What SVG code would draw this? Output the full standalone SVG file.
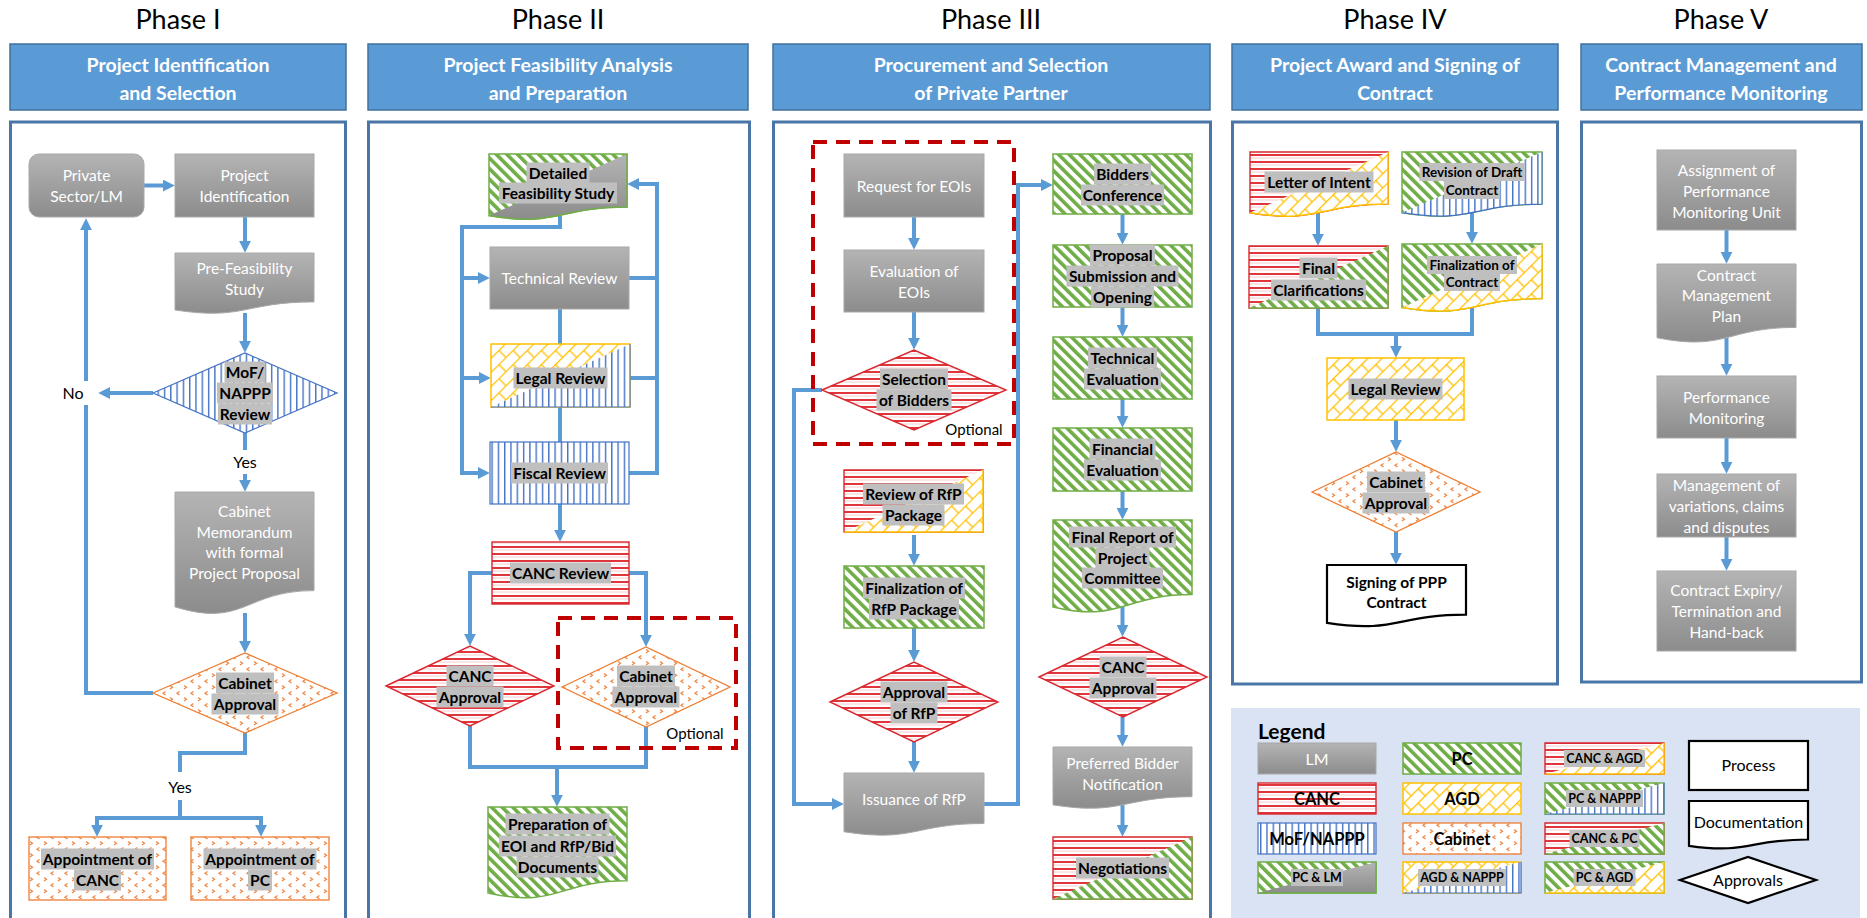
<svg xmlns="http://www.w3.org/2000/svg" width="1867" height="918" viewBox="0 0 1867 918">
<style>
  .ttl{font-family:Lato,'Liberation Sans',sans-serif;font-size:27px;fill:#000;text-anchor:middle}
  .hdr{fill:#5b9bd5;stroke:#41719c;stroke-width:1.5}
  .ht{font-family:Lato,'Liberation Sans',sans-serif;font-size:19.5px;font-weight:700;fill:#fff;text-anchor:middle}
  .frm{fill:#fff;stroke:#4a76a7;stroke-width:3}
  .gray{fill:url(#gLM);stroke:#a8a8a8;stroke-width:1}
  .tw{font-family:Lato,'Liberation Sans',sans-serif;font-size:15.5px;fill:#fff;text-anchor:middle}
  .tb{font-family:Lato,'Liberation Sans',sans-serif;font-size:15.5px;font-weight:700;fill:#000;text-anchor:middle}
  .ts{font-family:Lato,'Liberation Sans',sans-serif;font-size:13.5px;font-weight:700;fill:#000;text-anchor:middle}
  .tr{font-family:Lato,'Liberation Sans',sans-serif;font-size:16px;fill:#000;text-anchor:middle}
  .tp{font-family:Lato,'Liberation Sans',sans-serif;font-size:16px;fill:#000;text-anchor:middle}
  .op{font-family:Lato,'Liberation Sans',sans-serif;font-size:15px;fill:#000;text-anchor:middle}
  .tl{font-family:Lato,'Liberation Sans',sans-serif;font-size:16.5px;font-weight:700;fill:#000;text-anchor:middle}
  .tc{font-family:Lato,'Liberation Sans',sans-serif;font-size:12.5px;font-weight:700;fill:#000;text-anchor:middle}
  .hl{fill:#bfbfbf}
  .cn{fill:none;stroke:#5b9bd5;stroke-width:4}
  .ar{marker-end:url(#ah)}
  .dash{fill:none;stroke:#c00000;stroke-width:4;stroke-dasharray:14 9}
  .pc{fill:url(#pPC);stroke:#70ad47;stroke-width:1.5}
  .canc{fill:url(#pCANC);stroke:#d9272e;stroke-width:1.4}
  .nap{fill:url(#pNAP);stroke:#4472c4;stroke-width:1.2}
  .agd{fill:url(#pAGD);stroke:#ffc000;stroke-width:1.5}
  .cab{fill:url(#pCAB);stroke:#ed7d31;stroke-width:1.3}
  .lmB{fill:url(#gLM);stroke:#70ad47;stroke-width:1.5}
  .plain{fill:#fff;stroke:#000;stroke-width:2.2}
</style>
<defs>
  <linearGradient id="gLM" x1="0" y1="0" x2="0" y2="1">
    <stop offset="0" stop-color="#b4b4b4"/>
    <stop offset="1" stop-color="#8c8c8c"/>
  </linearGradient>
  <!-- PC: green downward diagonal stripes -->
  <pattern id="pPC" width="7.5" height="7.5" patternUnits="userSpaceOnUse" patternTransform="rotate(-45)">
    <rect width="7.5" height="7.5" fill="#fff"/>
    <rect width="3.6" height="7.5" fill="#70ad47"/>
  </pattern>
  <!-- CANC: red horizontal lines -->
  <pattern id="pCANC" width="8" height="7" patternUnits="userSpaceOnUse">
    <rect width="8" height="7" fill="#fff"/>
    <rect width="8" height="2" fill="#e0353b"/>
    <rect y="3.5" width="8" height="1" fill="#f5c9cb"/>
  </pattern>
  <!-- MoF/NAPPP: blue vertical lines -->
  <pattern id="pNAP" width="6.3" height="8" patternUnits="userSpaceOnUse">
    <rect width="6.3" height="8" fill="#fff"/>
    <rect width="1.4" height="8" fill="#4472c4"/>
  </pattern>
  <!-- AGD: yellow diagonal brick -->
  <pattern id="pAGD" width="20" height="20" patternUnits="userSpaceOnUse" patternTransform="rotate(-45)">
    <rect width="20" height="20" fill="#fff"/>
    <path d="M0 0.6H20M0 10.6H20M5 0.6V10.6M15 10.6V20.6" stroke="#ffc000" stroke-width="1.3" fill="none"/>
  </pattern>
  <!-- Cabinet: orange divots -->
  <pattern id="pCAB" width="14" height="12" patternUnits="userSpaceOnUse">
    <rect width="14" height="12" fill="#fff"/>
    <path d="M2 1.5L4.5 3.2L2 5M11.5 7.5L9 9.2L11.5 11" fill="none" stroke="#ef8a4a" stroke-width="1.3"/>
  </pattern>
  <marker id="ah" viewBox="0 0 10 10" refX="6" refY="5" markerWidth="12" markerHeight="12" markerUnits="userSpaceOnUse" orient="auto-start-reverse">
    <path d="M0 0L10 5L0 10Z" fill="#5b9bd5"/>
  </marker>
  <!-- lower-right halves of two-party shapes -->
  <clipPath id="b-dfs"><polygon points="475.2,221.8 640.8,147.8 667,147.8 667,256 475.2,256"/></clipPath>
  <clipPath id="b-leg2"><polygon points="477.1,413.3 643.9,337.7 670,337.7 670,447 477.1,447"/></clipPath>
  <clipPath id="b-rev"><polygon points="830.1,538.2 996.9,463.8 1023,463.8 1023,572 830.1,572"/></clipPath>
  <clipPath id="b-neg"><polygon points="1039.1,905.2 1205.9,830.8 1232,830.8 1232,940 1039.1,940"/></clipPath>
  <clipPath id="b-loi"><polygon points="1236.2,218.8 1401.8,145.9 1428,145.9 1428,252 1236.2,252"/></clipPath>
  <clipPath id="b-rdc"><polygon points="1388,218.8 1556,145.9 1582,145.9 1582,252 1388,252"/></clipPath>
  <clipPath id="b-fcl"><polygon points="1235.1,314.2 1401.9,239.8 1428,239.8 1428,348 1235.1,348"/></clipPath>
  <clipPath id="b-fco"><polygon points="1388,313.9 1556,237.6 1582,237.6 1582,348 1388,348"/></clipPath>
  <clipPath id="b-lg1"><polygon points="1246.2,896.1 1387.8,858.9 1410,858.9 1410,930 1246.2,930"/></clipPath>
  <clipPath id="b-lg2"><polygon points="1391.2,896.1 1532.8,858.9 1555,858.9 1555,930 1391.2,930"/></clipPath>
  <clipPath id="b-lg3"><polygon points="1533.1,777.1 1675.9,739.9 1700,739.9 1700,800 1533.1,800"/></clipPath>
  <clipPath id="b-lg4"><polygon points="1533.1,817.1 1675.9,779.9 1700,779.9 1700,840 1533.1,840"/></clipPath>
  <clipPath id="b-lg5"><polygon points="1533.1,857.1 1675.9,819.9 1700,819.9 1700,880 1533.1,880"/></clipPath>
  <clipPath id="b-lg6"><polygon points="1533.1,896.1 1675.9,858.9 1700,858.9 1700,930 1533.1,930"/></clipPath>
</defs>

<rect width="1867" height="918" fill="#fff"/>

<!-- phase titles, headers and frames -->
<g id="phases">
  <text class="ttl" x="178" y="29">Phase I</text>
  <text class="ttl" x="558" y="29">Phase II</text>
  <text class="ttl" x="991" y="29">Phase III</text>
  <text class="ttl" x="1395" y="29">Phase IV</text>
  <text class="ttl" x="1721" y="29">Phase V</text>

  <rect class="hdr" x="10" y="44" width="336" height="66"/>
  <text class="ht" x="178" y="72">Project Identification</text>
  <text class="ht" x="178" y="100">and Selection</text>
  <rect class="hdr" x="368" y="44" width="380" height="66"/>
  <text class="ht" x="558" y="72">Project Feasibility Analysis</text>
  <text class="ht" x="558" y="100">and Preparation</text>
  <rect class="hdr" x="773" y="44" width="437" height="66"/>
  <text class="ht" x="991" y="72">Procurement and Selection</text>
  <text class="ht" x="991" y="100">of Private Partner</text>
  <rect class="hdr" x="1232" y="44" width="326" height="66"/>
  <text class="ht" x="1395" y="72">Project Award and Signing of</text>
  <text class="ht" x="1395" y="100">Contract</text>
  <rect class="hdr" x="1581" y="44" width="281" height="66"/>
  <text class="ht" x="1721" y="72">Contract Management and</text>
  <text class="ht" x="1721" y="100">Performance Monitoring</text>

  <rect class="frm" x="10.5" y="122" width="335" height="820"/>
  <rect class="frm" x="368.5" y="122" width="381" height="820"/>
  <rect class="frm" x="773.5" y="122" width="437" height="820"/>
  <rect class="frm" x="1232.5" y="122" width="325" height="562"/>
  <rect class="frm" x="1581.5" y="122" width="280" height="560"/>
</g>

<!-- connectors -->
<g id="connectors">
  <!-- Phase I -->
  <path class="cn ar" d="M144 185.5H170"/>
  <path class="cn ar" d="M245 217V248"/>
  <path class="cn ar" d="M245 313V348"/>
  <path class="cn ar" d="M153 393H103"/>
  <path class="cn" d="M153 693H86V405"/>
  <path class="cn ar" d="M86 381V223"/>
  <path class="cn" d="M245 433V450"/>
  <path class="cn ar" d="M245 474V487"/>
  <path class="cn ar" d="M245 613V648"/>
  <path class="cn" d="M245 733V753H180V772"/>
  <path class="cn" d="M180 800V818"/>
  <path class="cn" d="M97 832V818H261V832" marker-start="url(#ah)" marker-end="url(#ah)"/>
  <!-- Phase II -->
  <path class="cn ar" d="M560 216V227H462V473H485"/>
  <path class="cn ar" d="M462 278H485"/>
  <path class="cn ar" d="M462 378H486"/>
  <path class="cn" d="M629 278H657"/>
  <path class="cn" d="M630 378H657"/>
  <path class="cn ar" d="M629 473H657V184H632"/>
  <path class="cn" d="M560 309V344"/>
  <path class="cn" d="M560 407V442"/>
  <path class="cn ar" d="M560 504V537"/>
  <path class="cn ar" d="M492 573H470V641"/>
  <path class="cn ar" d="M629 573H646V642"/>
  <path class="cn" d="M470 726V767H646V727"/>
  <path class="cn ar" d="M557 767V802"/>
  <!-- Phase III -->
  <path class="cn ar" d="M914 217V245"/>
  <path class="cn ar" d="M914 312V345"/>
  <path class="cn ar" d="M822 390H794V804H839"/>
  <path class="cn ar" d="M914 535V561"/>
  <path class="cn ar" d="M914 628V657"/>
  <path class="cn ar" d="M914 742V768"/>
  <path class="cn ar" d="M984 804H1018V185H1048"/>
  <path class="cn ar" d="M1122.5 214V240"/>
  <path class="cn ar" d="M1122.5 307V332"/>
  <path class="cn ar" d="M1122.5 399V423"/>
  <path class="cn ar" d="M1122.5 491V515"/>
  <path class="cn ar" d="M1122.5 607V632"/>
  <path class="cn ar" d="M1122.5 717V742"/>
  <path class="cn ar" d="M1122.5 805V832"/>
  <!-- Phase IV -->
  <path class="cn ar" d="M1318 213V241"/>
  <path class="cn ar" d="M1472 213V239"/>
  <path class="cn" d="M1318 308V334H1472V307"/>
  <path class="cn ar" d="M1396 334V353"/>
  <path class="cn ar" d="M1396 420V447"/>
  <path class="cn ar" d="M1396 532V560"/>
  <!-- Phase V -->
  <path class="cn ar" d="M1726.5 230V259"/>
  <path class="cn ar" d="M1726.5 338V371"/>
  <path class="cn ar" d="M1726.5 438V469"/>
  <path class="cn ar" d="M1726.5 537V566"/>
</g>

<!-- branch labels -->
<g id="labels">
  <text class="tr" x="73" y="399">No</text>
  <text class="tr" x="245" y="468">Yes</text>
  <text class="tr" x="180" y="793">Yes</text>
</g>

<!-- ===== Phase I ===== -->
<g id="n-private"><rect class="gray" x="29" y="154" width="115" height="63" rx="10"/>
  <text class="tw" x="86.5" y="180.5">Private</text><text class="tw" x="86.5" y="201.5">Sector/LM</text></g>
<g id="n-project-identification"><rect class="gray" x="175" y="154" width="139" height="63"/>
  <text class="tw" x="244.5" y="180.5">Project</text><text class="tw" x="244.5" y="201.5">Identification</text></g>
<g id="n-pre-feasibility"><path class="gray" d="M175 253H314V301.9C244.5 301.9 244.5 320.6 175 310Z"/>
  <text class="tw" x="244.5" y="273.5">Pre-Feasibility</text><text class="tw" x="244.5" y="294.5">Study</text></g>
<g id="n-mof-review"><polygon class="nap" points="153,393 245,353 337,393 245,433"/>
  <rect class="hl" x="224.5" y="361.5" width="41" height="21"/><rect class="hl" x="217" y="382.5" width="56" height="21"/><rect class="hl" x="218" y="403.5" width="54" height="21"/>
  <text class="tb" x="245" y="377.5">MoF/</text><text class="tb" x="245" y="398.5">NAPPP</text><text class="tb" x="245" y="419.5">Review</text></g>
<g id="n-cabinet-memo"><path class="gray" d="M175 492H314V590.6C244.5 590.6 244.5 628.2 175 606.9Z"/>
  <text class="tw" x="244.5" y="516.5">Cabinet</text><text class="tw" x="244.5" y="537.5">Memorandum</text>
  <text class="tw" x="244.5" y="557.5">with formal</text><text class="tw" x="244.5" y="578.5">Project Proposal</text></g>
<g id="n-cabinet-approval-1"><polygon class="cab" points="153,693 245,653 337,693 245,733"/>
  <rect class="hl" x="216" y="672.5" width="58" height="21"/><rect class="hl" x="211.5" y="693.5" width="67" height="21"/>
  <text class="tb" x="245" y="688.5">Cabinet</text><text class="tb" x="245" y="709.5">Approval</text></g>
<g id="n-appoint-canc"><rect class="cab" x="29" y="837" width="137" height="63"/>
  <rect class="hl" x="41" y="848.5" width="113" height="21"/><rect class="hl" x="74" y="869.5" width="47" height="21"/>
  <text class="tb" x="97.5" y="864.5">Appointment of</text><text class="tb" x="97.5" y="885.5">CANC</text></g>
<g id="n-appoint-pc"><rect class="cab" x="191" y="837" width="138" height="63"/>
  <rect class="hl" x="203.5" y="848.5" width="113" height="21"/><rect class="hl" x="248" y="869.5" width="24" height="21"/>
  <text class="tb" x="260" y="864.5">Appointment of</text><text class="tb" x="260" y="885.5">PC</text></g>

<!-- ===== Phase II ===== -->
<g id="n-detailed-feasibility">
  <path class="pc" d="M489 154H627V206.9C558 206.9 558 227.1 489 215.6Z"/>
  <path class="lmB" clip-path="url(#b-dfs)" d="M489 154H627V206.9C558 206.9 558 227.1 489 215.6Z"/>
  <rect class="hl" x="526.5" y="162.5" width="63" height="21"/><rect class="hl" x="499" y="182.5" width="118" height="21"/>
  <text class="tb" x="558" y="178.5">Detailed</text><text class="tb" x="558" y="198.5">Feasibility Study</text></g>
<g id="n-technical-review"><rect class="gray" x="490" y="247" width="139" height="62"/>
  <text class="tw" x="559.5" y="283.5">Technical Review</text></g>
<g id="n-legal-review-2">
  <path class="agd" d="M491 344H630V407H491Z"/>
  <path class="nap" clip-path="url(#b-leg2)" d="M491 344H630V407H491Z"/>
  <rect class="hl" x="513.5" y="367.5" width="94" height="21"/>
  <text class="tb" x="560.5" y="383.5">Legal Review</text></g>
<g id="n-fiscal-review"><rect class="nap" x="490" y="442" width="139" height="62"/>
  <rect class="hl" x="511" y="462.5" width="97" height="21"/>
  <text class="tb" x="559.5" y="478.5">Fiscal Review</text></g>
<g id="n-canc-review"><rect class="canc" x="492" y="542" width="137" height="62"/>
  <rect class="hl" x="510" y="562.5" width="101" height="21"/>
  <text class="tb" x="560.5" y="578.5">CANC Review</text></g>
<g id="n-canc-approval-2"><polygon class="canc" points="386,686 470,646 554,686 470,726"/>
  <rect class="hl" x="446.5" y="665.5" width="47" height="21"/><rect class="hl" x="436.5" y="686.5" width="67" height="21"/>
  <text class="tb" x="470" y="681.5">CANC</text><text class="tb" x="470" y="702.5">Approval</text></g>
<g id="n-cabinet-approval-2"><polygon class="cab" points="562,687 646,647 730,687 646,727"/>
  <rect class="hl" x="617" y="665.5" width="58" height="21"/><rect class="hl" x="612.5" y="686.5" width="67" height="21"/>
  <text class="tb" x="646" y="681.5">Cabinet</text><text class="tb" x="646" y="702.5">Approval</text></g>
<g id="n-optional-2"><rect class="dash" x="558" y="618" width="178" height="130"/>
  <text class="op" x="695" y="739">Optional</text></g>
<g id="n-preparation-docs"><path class="pc" d="M488 807H627V880.8C557.5 880.8 557.5 908.9 488 892.9Z"/>
  <rect class="hl" x="505.5" y="813.5" width="104" height="21"/><rect class="hl" x="499" y="835.5" width="117" height="21"/><rect class="hl" x="516.5" y="856.5" width="82" height="21"/>
  <text class="tb" x="557.5" y="829.5">Preparation of</text><text class="tb" x="557.5" y="851.5">EOI and RfP/Bid</text><text class="tb" x="557.5" y="872.5">Documents</text></g>

<!-- ===== Phase III ===== -->
<g id="n-optional-3"><rect class="dash" x="813" y="142" width="201" height="302"/>
  <text class="op" x="974" y="435">Optional</text></g>
<g id="n-request-eoi"><rect class="gray" x="844" y="154" width="140" height="63"/>
  <text class="tw" x="914" y="191.5">Request for EOIs</text></g>
<g id="n-evaluation-eoi"><rect class="gray" x="844" y="250" width="140" height="62"/>
  <text class="tw" x="914" y="276.5">Evaluation of</text><text class="tw" x="914" y="297.5">EOIs</text></g>
<g id="n-selection-bidders"><polygon class="canc" points="822,390 914,350 1006,390 914,430"/>
  <rect class="hl" x="880" y="368.5" width="68" height="21"/><rect class="hl" x="876.5" y="389.5" width="75" height="21"/>
  <text class="tb" x="914" y="384.5">Selection</text><text class="tb" x="914" y="405.5">of Bidders</text></g>
<g id="n-review-rfp">
  <path class="canc" d="M844 470H983V532H844Z"/>
  <path class="agd" clip-path="url(#b-rev)" d="M844 470H983V532H844Z"/>
  <rect class="hl" x="863" y="483.5" width="101" height="21"/><rect class="hl" x="882.5" y="504.5" width="62" height="21"/>
  <text class="tb" x="913.5" y="499.5">Review of RfP</text><text class="tb" x="913.5" y="520.5">Package</text></g>
<g id="n-finalization-rfp"><rect class="pc" x="844" y="566" width="140" height="62"/>
  <rect class="hl" x="863" y="577.5" width="102" height="21"/><rect class="hl" x="869" y="598.5" width="90" height="21"/>
  <text class="tb" x="914" y="593.5">Finalization of</text><text class="tb" x="914" y="614.5">RfP Package</text></g>
<g id="n-approval-rfp"><polygon class="canc" points="830,702 914,662 998,702 914,742"/>
  <rect class="hl" x="880.5" y="681.5" width="67" height="21"/><rect class="hl" x="890.5" y="702.5" width="47" height="21"/>
  <text class="tb" x="914" y="697.5">Approval</text><text class="tb" x="914" y="718.5">of RfP</text></g>
<g id="n-issuance-rfp"><path class="gray" d="M844 773H984V823.5C914 823.5 914 842.8 844 831.8Z"/>
  <text class="tw" x="914" y="804.5">Issuance of RfP</text></g>
<g id="n-bidders-conference"><rect class="pc" x="1053" y="154" width="139" height="60"/>
  <rect class="hl" x="1094" y="163.5" width="57" height="21"/><rect class="hl" x="1081" y="184.5" width="83" height="21"/>
  <text class="tb" x="1122.5" y="179.5">Bidders</text><text class="tb" x="1122.5" y="200.5">Conference</text></g>
<g id="n-proposal-submission"><rect class="pc" x="1053" y="245" width="139" height="62"/>
  <rect class="hl" x="1090" y="244.5" width="65" height="21"/><rect class="hl" x="1066.5" y="265.5" width="112" height="21"/><rect class="hl" x="1091" y="286.5" width="63" height="21"/>
  <text class="tb" x="1122.5" y="260.5">Proposal</text><text class="tb" x="1122.5" y="281.5">Submission and</text><text class="tb" x="1122.5" y="302.5">Opening</text></g>
<g id="n-technical-evaluation"><rect class="pc" x="1053" y="337" width="139" height="62"/>
  <rect class="hl" x="1088" y="347.5" width="69" height="21"/><rect class="hl" x="1084" y="368.5" width="77" height="21"/>
  <text class="tb" x="1122.5" y="363.5">Technical</text><text class="tb" x="1122.5" y="384.5">Evaluation</text></g>
<g id="n-financial-evaluation"><rect class="pc" x="1053" y="428" width="139" height="63"/>
  <rect class="hl" x="1089.5" y="438.5" width="66" height="21"/><rect class="hl" x="1084" y="459.5" width="77" height="21"/>
  <text class="tb" x="1122.5" y="454.5">Financial</text><text class="tb" x="1122.5" y="475.5">Evaluation</text></g>
<g id="n-final-report"><path class="pc" d="M1053 520H1192V594.6C1122.5 594.6 1122.5 623 1053 606.9Z"/>
  <rect class="hl" x="1069" y="526.5" width="107" height="21"/><rect class="hl" x="1095.5" y="547.5" width="54" height="21"/><rect class="hl" x="1082" y="567.5" width="81" height="21"/>
  <text class="tb" x="1122.5" y="542.5">Final Report of</text><text class="tb" x="1122.5" y="563.5">Project</text><text class="tb" x="1122.5" y="583.5">Committee</text></g>
<g id="n-canc-approval-3"><polygon class="canc" points="1039,677 1123,637 1207,677 1123,717"/>
  <rect class="hl" x="1099.5" y="656.5" width="47" height="21"/><rect class="hl" x="1089.5" y="677.5" width="67" height="21"/>
  <text class="tb" x="1123" y="672.5">CANC</text><text class="tb" x="1123" y="693.5">Approval</text></g>
<g id="n-preferred-bidder"><path class="gray" d="M1053 747H1192V796.7C1122.5 796.7 1122.5 815.7 1053 804.9Z"/>
  <text class="tw" x="1122.5" y="768.5">Preferred Bidder</text><text class="tw" x="1122.5" y="789.5">Notification</text></g>
<g id="n-negotiations">
  <path class="canc" d="M1053 837H1192V899H1053Z"/>
  <path class="pc" clip-path="url(#b-neg)" d="M1053 837H1192V899H1053Z"/>
  <rect class="hl" x="1076" y="857.5" width="93" height="21"/>
  <text class="tb" x="1122.5" y="873.5">Negotiations</text></g>

<!-- ===== Phase IV ===== -->
<g id="n-letter-of-intent">
  <path class="canc" d="M1250 152H1388V204.1C1319 204.1 1319 224 1250 212.7Z"/>
  <path class="agd" clip-path="url(#b-loi)" d="M1250 152H1388V204.1C1319 204.1 1319 224 1250 212.7Z"/>
  <rect class="hl" x="1264.5" y="171.5" width="109" height="21"/>
  <text class="tb" x="1319" y="187.5">Letter of Intent</text></g>
<g id="n-revision-draft">
  <path class="pc" d="M1402 152H1542V204.1C1472 204.1 1472 224 1402 212.7Z"/>
  <path class="nap" clip-path="url(#b-rdc)" d="M1402 152H1542V204.1C1472 204.1 1472 224 1402 212.7Z"/>
  <rect class="hl" x="1419.5" y="163" width="105" height="18"/><rect class="hl" x="1444" y="181" width="56" height="18"/>
  <text class="ts" x="1472" y="177">Revision of Draft</text><text class="ts" x="1472" y="195">Contract</text></g>
<g id="n-final-clarifications">
  <path class="canc" d="M1249 246H1388V308H1249Z"/>
  <path class="pc" clip-path="url(#b-fcl)" d="M1249 246H1388V308H1249Z"/>
  <rect class="hl" x="1299.5" y="257.5" width="38" height="21"/><rect class="hl" x="1271" y="279.5" width="95" height="21"/>
  <text class="tb" x="1318.5" y="273.5">Final</text><text class="tb" x="1318.5" y="295.5">Clarifications</text></g>
<g id="n-finalization-contract">
  <path class="pc" d="M1402 244H1542V298.5C1472 298.5 1472 319.3 1402 307.5Z"/>
  <path class="agd" clip-path="url(#b-fco)" d="M1402 244H1542V298.5C1472 298.5 1472 319.3 1402 307.5Z"/>
  <rect class="hl" x="1427" y="256" width="90" height="18"/><rect class="hl" x="1444" y="273" width="56" height="18"/>
  <text class="ts" x="1472" y="270">Finalization of</text><text class="ts" x="1472" y="287">Contract</text></g>
<g id="n-legal-review-4"><rect class="agd" x="1327" y="358" width="137" height="62"/>
  <rect class="hl" x="1348.5" y="378.5" width="94" height="21"/>
  <text class="tb" x="1395.5" y="394.5">Legal Review</text></g>
<g id="n-cabinet-approval-4"><polygon class="cab" points="1312,492 1396,452 1480,492 1396,532"/>
  <rect class="hl" x="1367" y="471.5" width="58" height="21"/><rect class="hl" x="1362.5" y="492.5" width="67" height="21"/>
  <text class="tb" x="1396" y="487.5">Cabinet</text><text class="tb" x="1396" y="508.5">Approval</text></g>
<g id="n-signing"><path class="plain" d="M1327 565H1466V614.7C1396.5 614.7 1396.5 633.7 1327 622.9Z"/>
  <text class="tb" x="1396.5" y="587.5">Signing of PPP</text><text class="tb" x="1396.5" y="607.5">Contract</text></g>

<!-- ===== Phase V ===== -->
<g id="n-assignment"><rect class="gray" x="1657" y="150" width="139" height="80"/>
  <text class="tw" x="1726.5" y="175.5">Assignment of</text><text class="tw" x="1726.5" y="196.5">Performance</text><text class="tw" x="1726.5" y="217.5">Monitoring Unit</text></g>
<g id="n-contract-plan"><path class="gray" d="M1657 264H1796V327.4C1726.5 327.4 1726.5 351.5 1657 337.8Z"/>
  <text class="tw" x="1726.5" y="280.5">Contract</text><text class="tw" x="1726.5" y="300.5">Management</text><text class="tw" x="1726.5" y="321.5">Plan</text></g>
<g id="n-performance-monitoring"><rect class="gray" x="1657" y="376" width="139" height="62"/>
  <text class="tw" x="1726.5" y="402.5">Performance</text><text class="tw" x="1726.5" y="423.5">Monitoring</text></g>
<g id="n-variations"><rect class="gray" x="1657" y="474" width="139" height="63"/>
  <text class="tw" x="1726.5" y="490.5">Management of</text><text class="tw" x="1726.5" y="511.5">variations, claims</text><text class="tw" x="1726.5" y="532.5">and disputes</text></g>
<g id="n-expiry"><rect class="gray" x="1657" y="571" width="139" height="80"/>
  <text class="tw" x="1726.5" y="595.5">Contract Expiry/</text><text class="tw" x="1726.5" y="616.5">Termination and</text><text class="tw" x="1726.5" y="637.5">Hand-back</text></g>

<!-- ===== Legend ===== -->
<g id="legend">
  <rect x="1231" y="708" width="629" height="215" fill="#dae3f3"/>
  <text x="1258" y="739" font-family="Lato,'Liberation Sans',sans-serif" font-size="21" font-weight="700" fill="#000">Legend</text>

  <rect class="gray" x="1258" y="743" width="118" height="31"/>
  <text class="tw" x="1317" y="764.5" style="font-size:16px">LM</text>
  <rect class="canc" x="1258" y="783" width="118" height="31"/>
  <text class="tl" x="1317" y="804.5">CANC</text>
  <rect class="nap" x="1258" y="823" width="118" height="31"/>
  <text class="tl" x="1317" y="844.5">MoF/NAPPP</text>
  <path class="pc" d="M1258 862H1376V893H1258Z"/>
  <path class="lmB" clip-path="url(#b-lg1)" d="M1258 862H1376V893H1258Z"/>
  <rect class="hl" x="1291" y="869" width="52" height="17"/>
  <text class="tc" x="1317" y="882">PC &amp; LM</text>

  <rect class="pc" x="1403" y="743" width="118" height="31"/>
  <text class="tl" x="1462" y="764.5">PC</text>
  <rect class="agd" x="1403" y="783" width="118" height="31"/>
  <text class="tl" x="1462" y="804.5">AGD</text>
  <rect class="cab" x="1403" y="823" width="118" height="31"/>
  <text class="tl" x="1462" y="844.5">Cabinet</text>
  <path class="agd" d="M1403 862H1521V893H1403Z"/>
  <path class="nap" clip-path="url(#b-lg2)" d="M1403 862H1521V893H1403Z"/>
  <rect class="hl" x="1418" y="869" width="88" height="17"/>
  <text class="tc" x="1462" y="882">AGD &amp; NAPPP</text>

  <path class="canc" d="M1545 743H1664V774H1545Z"/>
  <path class="agd" clip-path="url(#b-lg3)" d="M1545 743H1664V774H1545Z"/>
  <rect class="hl" x="1564" y="750" width="81" height="17"/>
  <text class="tc" x="1604.5" y="763">CANC &amp; AGD</text>
  <path class="pc" d="M1545 783H1664V814H1545Z"/>
  <path class="nap" clip-path="url(#b-lg4)" d="M1545 783H1664V814H1545Z"/>
  <rect class="hl" x="1566" y="790" width="77" height="17"/>
  <text class="tc" x="1604.5" y="803">PC &amp; NAPPP</text>
  <path class="canc" d="M1545 823H1664V854H1545Z"/>
  <path class="pc" clip-path="url(#b-lg5)" d="M1545 823H1664V854H1545Z"/>
  <rect class="hl" x="1569.5" y="830" width="70" height="17"/>
  <text class="tc" x="1604.5" y="843">CANC &amp; PC</text>
  <path class="pc" d="M1545 862H1664V893H1545Z"/>
  <path class="agd" clip-path="url(#b-lg6)" d="M1545 862H1664V893H1545Z"/>
  <rect class="hl" x="1573.5" y="869" width="62" height="17"/>
  <text class="tc" x="1604.5" y="882">PC &amp; AGD</text>

  <rect class="plain" x="1689" y="741" width="119" height="49"/>
  <text class="tp" x="1748.5" y="771">Process</text>
  <path class="plain" d="M1689 801H1808V839.5C1748.5 839.5 1748.5 854.2 1689 845.8Z"/>
  <text class="tp" x="1748.5" y="828">Documentation</text>
  <polygon class="plain" points="1680,880 1748,857 1816,880 1748,903"/>
  <text class="tp" x="1748" y="886">Approvals</text>
</g>
</svg>
